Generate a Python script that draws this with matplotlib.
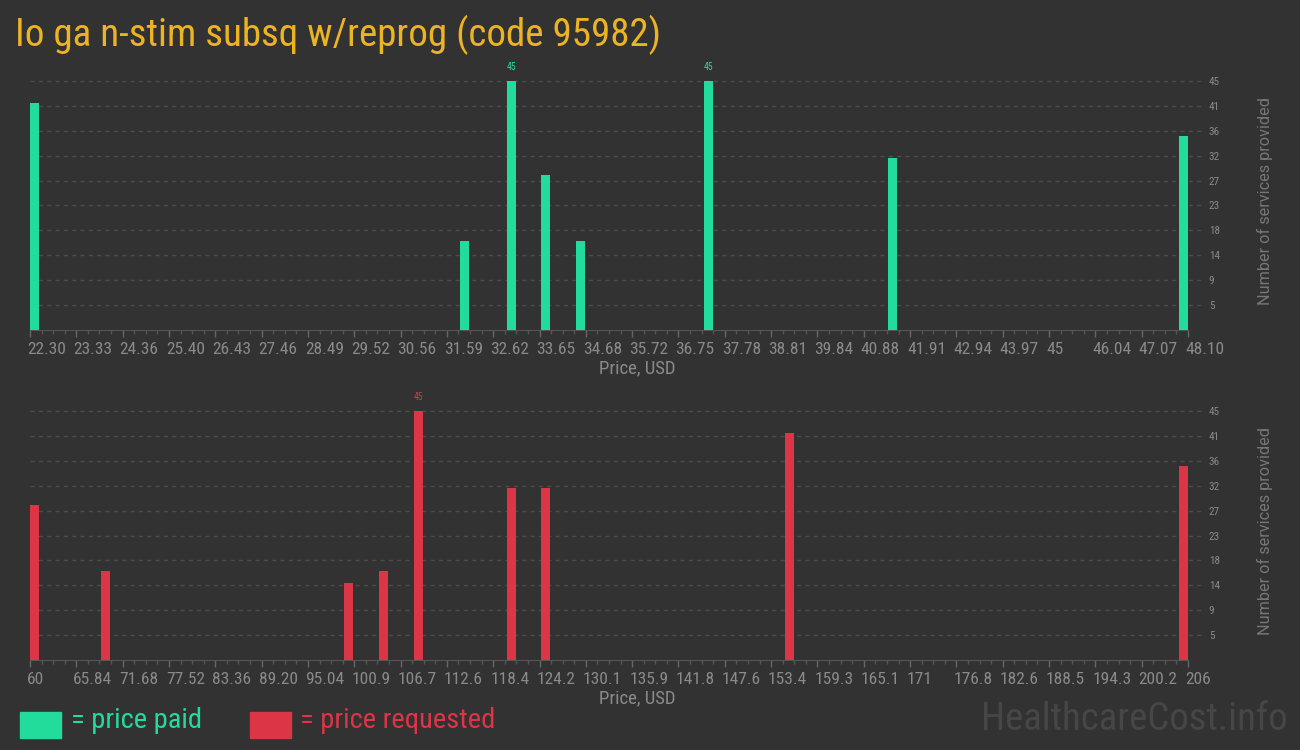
import matplotlib
matplotlib.use("Agg")
import matplotlib.pyplot as plt
import numpy as np
from matplotlib import font_manager
from matplotlib.ticker import AutoMinorLocator
from matplotlib.transforms import ScaledTranslation
from matplotlib.patches import Rectangle

# data
paid_prices = [22.30, 31.96, 33.01, 33.77, 34.56, 37.43, 41.57, 48.10]
paid_counts = [41, 16, 45, 28, 16, 45, 31, 35]
req_prices = [60.0, 69.0, 99.9, 104.3, 108.8, 120.6, 124.9, 155.9, 206.0]
req_counts = [28, 16, 14, 16, 45, 31, 31, 41, 35]

paid_labels = ["22.30", "23.33", "24.36", "25.40", "26.43", "27.46", "28.49", "29.52",
               "30.56", "31.59", "32.62", "33.65", "34.68", "35.72", "36.75", "37.78",
               "38.81", "39.84", "40.88", "41.91", "42.94", "43.97", "45", "46.04",
               "47.07", "48.10"]
req_labels = ["60", "65.84", "71.68", "77.52", "83.36", "89.20", "95.04", "100.9",
              "106.7", "112.6", "118.4", "124.2", "130.1", "135.9", "141.8", "147.6",
              "153.4", "159.3", "165.1", "171", "176.8", "182.6", "188.5", "194.3",
              "200.2", "206"]
y_labels = ["5", "9", "14", "18", "23", "27", "32", "36", "41", "45"]

title = "Io ga n-stim subsq w/reprog (code 95982)"

BG = "#323232"
GREEN = "#22dc9b"
RED = "#dc3545"
GOLD = "#ecb322"
GREY = "#8a8a8a"

names = {f.name for f in font_manager.fontManager.ttflist}


def pick(*cands):
    for c in cands:
        if c in names:
            return c
    return "DejaVu Sans"


COND = pick("Roboto Condensed", "Liberation Sans Narrow", "DejaVu Sans")
STRETCH = "condensed" if COND == "DejaVu Sans" else "normal"
MAIN = pick("Roboto Condensed", "Roboto", "DejaVu Sans")
PLAIN = pick("Roboto", "DejaVu Sans")

fig = plt.figure(figsize=(13, 7.5), dpi=100, facecolor=BG)
W, H = 1300, 750
AX_L, AX_W, AX_H = 30, 1158, 249
BAR_PX = 9


def panel(top_px, prices, counts, color, labels):
    ax = fig.add_axes([AX_L / W, 1 - (top_px + AX_H) / H, AX_W / W, AX_H / H])
    ax.set_facecolor(BG)
    lo, hi = min(prices), max(prices)
    span = hi - lo
    bw = span * BAR_PX / AX_W
    left = [lo + (p - lo) * (span - bw) / span for p in prices]
    ax.bar(left, counts, width=bw, align="edge", color=color, zorder=3)
    ax.set_xlim(lo, hi)
    ax.set_ylim(0, 45)

    # max annotations
    top = max(counts)
    for x, c in zip(left, counts):
        if c == top:
            ax.annotate(str(c), (x + bw / 2, c), xytext=(0, 14), textcoords="offset pixels",
                        ha="center", va="center", color=color, fontsize=7,
                        family=COND, fontstretch=STRETCH)

    # x axis
    ax.set_xticks(np.linspace(lo, hi, len(labels)))
    ax.set_xticklabels(labels)
    ax.xaxis.set_minor_locator(AutoMinorLocator(4))
    ax.tick_params(axis="x", which="major", length=5, width=1, color="#666666",
                   labelcolor=GREY, labelsize=12.5, pad=4)
    ax.tick_params(axis="x", which="minor", length=3, width=1, color="#555555")
    off = ScaledTranslation(-3 / 100, 0, fig.dpi_scale_trans)
    for t in ax.get_xticklabels():
        t.set_horizontalalignment("left")
        t.set_family(COND)
        t.set_stretch(STRETCH)
        t.set_transform(t.get_transform() + off)
    ax.set_xlabel("Price, USD", color=GREY, fontsize=13.5, family=MAIN)
    ax.xaxis.set_label_coords((637 - AX_L) / AX_W, -29 / AX_H)

    # y axis on the right
    yt = np.linspace(0, 45, 11)[1:]
    ax.yaxis.tick_right()
    ax.set_yticks(yt)
    ax.set_yticklabels(y_labels)
    ax.tick_params(axis="y", length=0, pad=15, labelcolor=GREY, labelsize=8)
    for t in ax.get_yticklabels():
        t.set_family(COND)
        t.set_stretch(STRETCH)
        t.set_horizontalalignment("left")
    ax.hlines(yt, 0, 1.0147, transform=ax.get_yaxis_transform(), clip_on=False,
              colors="#4c4c4c", linestyles=(0, (3, 3)), linewidth=1, zorder=1)
    ax.yaxis.set_label_position("right")
    ax.set_ylabel("Number of services provided", color="#777777", fontsize=11.7,
                  family=PLAIN, va="center")
    ax.yaxis.set_label_coords((1265 - AX_L) / AX_W, 129 / AX_H)

    for s in ["top", "left", "right"]:
        ax.spines[s].set_visible(False)
    ax.spines["bottom"].set_color("#555555")
    return ax


panel(81, paid_prices, paid_counts, GREEN, paid_labels)
panel(411, req_prices, req_counts, RED, req_labels)

fig.text(15 / W, 1 - 35 / H, title, color=GOLD, fontsize=28.1, family=MAIN,
         ha="left", va="center")

# legend
fig.patches.append(Rectangle((20 / W, 1 - 738 / H), 41 / W, 26 / H,
                             transform=fig.transFigure, color=GREEN))
fig.text(71 / W, 1 - 721 / H, "= price paid", color=GREEN, fontsize=20.5, family=MAIN,
         va="center", ha="left")
fig.patches.append(Rectangle((250 / W, 1 - 738 / H), 41 / W, 26 / H,
                             transform=fig.transFigure, color=RED))
fig.text(300 / W, 1 - 721 / H, "= price requested", color=RED, fontsize=20.5, family=MAIN,
         va="center", ha="left")

fig.text(1288 / W, 1 - 720 / H, "HealthcareCost.info", color="#464646", fontsize=28,
         family=MAIN, ha="right", va="center")

fig.savefig("out.png", dpi=100, facecolor=BG)
